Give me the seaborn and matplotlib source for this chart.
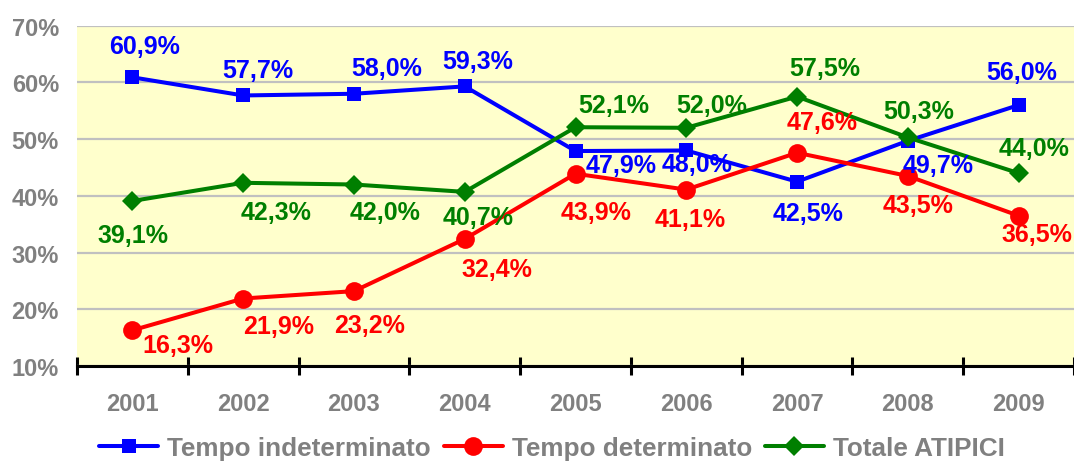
import matplotlib
matplotlib.use("Agg")
import matplotlib.pyplot as plt
from matplotlib.lines import Line2D
import seaborn as sns
import pandas as pd

years = ["2001", "2002", "2003", "2004", "2005", "2006", "2007", "2008", "2009"]
tempo_indeterminato = [60.9, 57.7, 58.0, 59.3, 47.9, 48.0, 42.5, 49.7, 56.0]
tempo_determinato = [16.3, 21.9, 23.2, 32.4, 43.9, 41.1, 47.6, 43.5, 36.5]
totale_atipici = [39.1, 42.3, 42.0, 40.7, 52.1, 52.0, 57.5, 50.3, 44.0]
series_names = ["Tempo indeterminato", "Tempo determinato", "Totale ATIPICI"]
y_ticks = [10, 20, 30, 40, 50, 60, 70]

# label offsets in pixels (dx, dy downward) relative to each point
off_blue = [(12, -31), (15, -25), (33, -26), (13, -25), (46, 14), (11, 14), (11, 31), (30, 24), (3, -33)]
off_red = [(45, 15), (35, 27), (16, 34), (32, 30), (21, 38), (4, 29), (25, -31), (10, 29), (18, 18)]
off_green = [(1, 34), (33, 29), (31, 27), (13, 25), (38, -22), (25, -23), (28, -29), (11, -26), (15, -25)]

sns.set_theme(style="white")
plt.rcParams["font.family"] = ["Liberation Sans", "DejaVu Sans"]
plt.rcParams["font.weight"] = "bold"

fig = plt.figure(figsize=(10.74, 4.64), dpi=100)
ax = fig.add_axes([77 / 1074, 1 - 367 / 464, 1 - 77 / 1074, (367 - 26.7) / 464])
ax.set_facecolor("#FFFFCC")

GRAY = "#808080"
colors = ["#0000FF", "#FF0000", "#007F00"]
markers = ["s", "o", "D"]
msizes = [9.8, 13.5, 10.5]
data = [tempo_indeterminato, tempo_determinato, totale_atipici]
offsets = [off_blue, off_red, off_green]

for vals, name, col, mk, ms, offs in zip(data, series_names, colors, markers, msizes, offsets):
    df = pd.DataFrame({"year": years, "value": vals})
    sns.lineplot(data=df, x="year", y="value", ax=ax, color=col, linewidth=2.9,
                 marker=mk, markersize=ms, markeredgewidth=0, markeredgecolor=col,
                 label=name, zorder=3, legend=False, clip_on=False)
    for i, v in enumerate(vals):
        txt = f"{v:.1f}%".replace(".", ",")
        ax.annotate(txt, (i, v), xytext=(offs[i][0], -offs[i][1]), textcoords="offset pixels",
                    ha="center", va="center", color=col, fontsize=18, fontweight="bold",
                    zorder=6, annotation_clip=False)

ax.set_xlim(-0.5, len(years) - 0.5)
ax.set_ylim(10, 70)
ax.set_yticks(y_ticks)
ax.set_yticklabels([f"{t}%" for t in y_ticks])
ax.yaxis.grid(True, color="#C0C0C0", linewidth=1.6)
ax.set_axisbelow(True)
ax.tick_params(axis="y", length=0, pad=13, labelsize=17, labelcolor=GRAY)

ax.set_xticks([i - 0.5 for i in range(len(years) + 1)])
ax.set_xticklabels([])
ax.set_xticks(range(len(years)), minor=True)
ax.set_xticklabels(years, minor=True)
ax.tick_params(axis="x", which="major", direction="inout", length=13, width=2.2, color="black", bottom=True)
ax.tick_params(axis="x", which="minor", length=0, pad=19, labelsize=17, labelcolor=GRAY)
ax.set_xlabel("")
ax.set_ylabel("")

for s in ["left", "right", "top"]:
    ax.spines[s].set_visible(False)
ax.spines["bottom"].set_color("black")
ax.spines["bottom"].set_linewidth(2.2)

handles = [Line2D([0], [0], color=c, lw=2.9, marker=m, markersize=s, markeredgewidth=0)
           for c, m, s in zip(colors, markers, msizes)]
leg = fig.legend(handles, series_names, loc="center", bbox_to_anchor=(552 / 1074, 1 - 449 / 464),
                 ncol=3, frameon=False, fontsize=18.8, handlelength=2.25, handletextpad=0.35,
                 columnspacing=0.5, borderpad=0, borderaxespad=0)
for t in leg.get_texts():
    t.set_color(GRAY)
    t.set_fontweight("bold")

fig.savefig("out.png", dpi=100)
